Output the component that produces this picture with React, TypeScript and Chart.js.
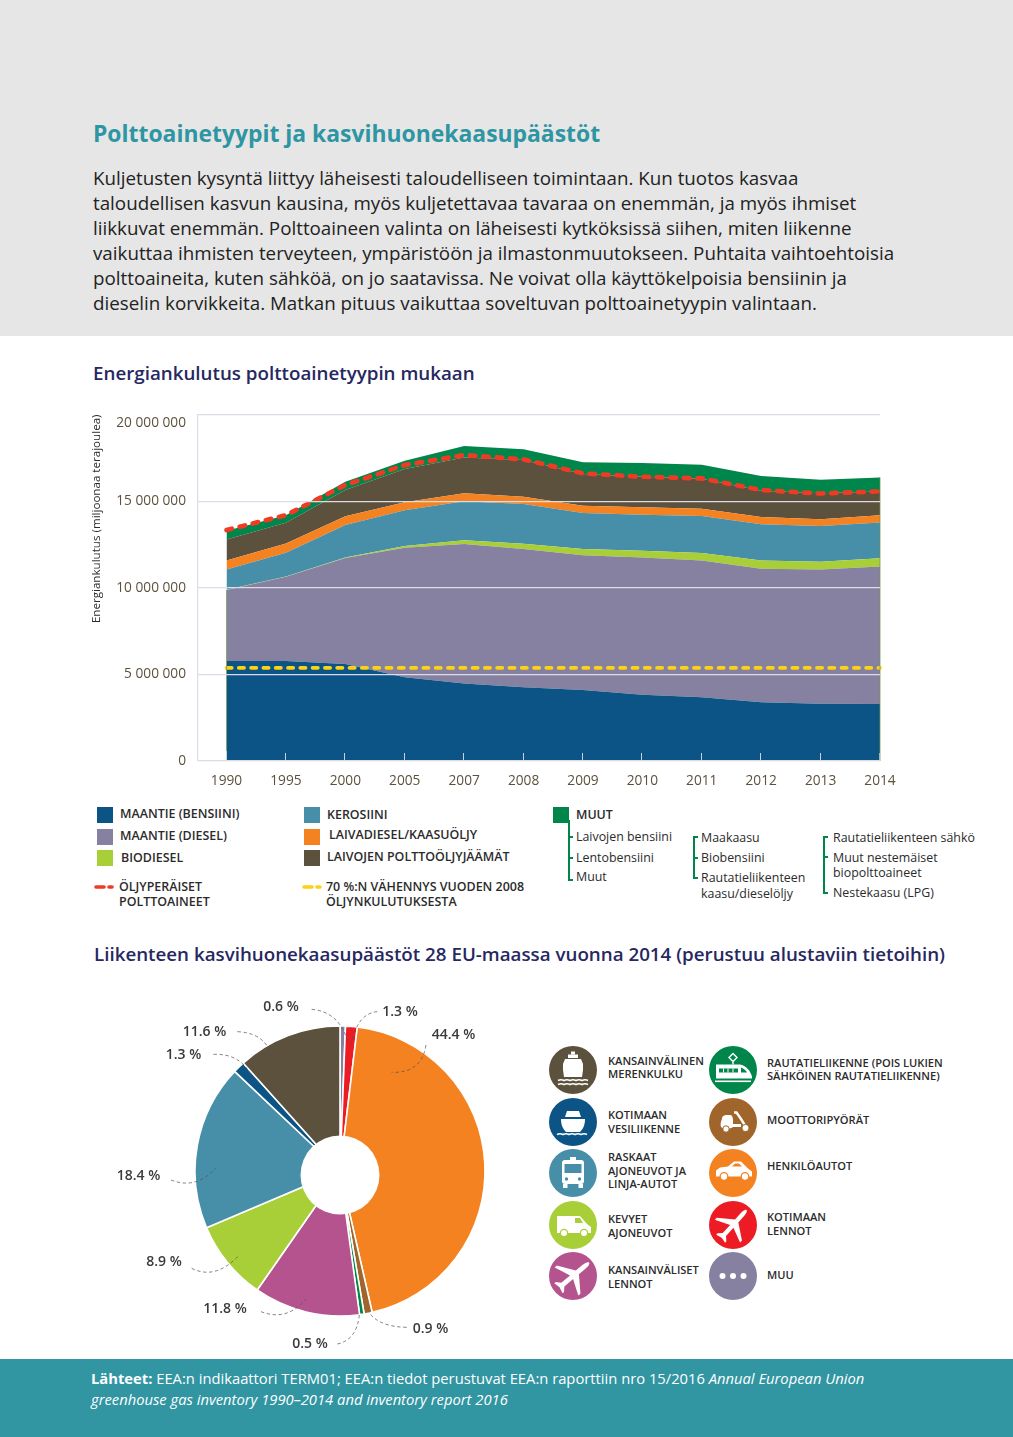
import React, { useEffect, useRef } from "react";
import { Chart, registerables } from "chart.js";
Chart.register(...registerables);

// ---------- data ----------
const years = ["1990","1995","2000","2005","2007","2008","2009","2010","2011","2012","2013","2014"];
const roadPetrol = [5770000,5770000,5600000,4830000,4480000,4250000,4100000,3830000,3680000,3390000,3310000,3290000];
const roadDiesel = [4100000,4860000,6110000,7480000,8040000,7980000,7770000,7920000,7900000,7710000,7750000,7940000];
const biodiesel = [10000,20000,40000,100000,220000,310000,360000,380000,420000,480000,440000,470000];
const kerosene = [1180000,1370000,1870000,2070000,2260000,2290000,2080000,2080000,2140000,2080000,2060000,2070000];
const marineDiesel = [520000,540000,500000,450000,450000,420000,420000,430000,420000,420000,400000,420000];
const residualFuel = [1210000,1190000,1520000,1920000,2070000,2120000,1830000,1770000,1730000,1520000,1490000,1370000];
const others = [500000,440000,480000,480000,660000,620000,690000,790000,810000,850000,780000,810000];
const oilFuels = [13330000,14190000,15930000,17080000,17660000,17410000,16600000,16410000,16310000,15640000,15440000,15560000];
const target70 = [5380000,5380000,5380000,5380000,5380000,5380000,5380000,5380000,5380000,5380000,5380000,5380000];
const yTicks = [0,5000000,10000000,15000000,20000000];

const pieLabels = ["Muu","Kotimaan lennot","Henkilöautot","Moottoripyörät","Rautatieliikenne","Kansainväliset lennot","Kevyet ajoneuvot","Raskaat ajoneuvot ja linja-autot","Kotimaan vesiliikenne","Kansainvälinen merenkulku"];
const pieValues = [0.6,1.3,44.4,0.9,0.5,11.8,8.9,18.4,1.3,11.6];
const pieColors = ["#8781a1","#ed1c24","#f58220","#a0652b","#00854a","#b5538f","#a9cf38","#478fa8","#0d5486","#5c513c"];

const bodyLines = [
  "Kuljetusten kysyntä liittyy läheisesti taloudelliseen toimintaan. Kun tuotos kasvaa",
  "taloudellisen kasvun kausina, myös kuljetettavaa tavaraa on enemmän, ja myös ihmiset",
  "liikkuvat enemmän. Polttoaineen valinta on läheisesti kytköksissä siihen, miten liikenne",
  "vaikuttaa ihmisten terveyteen, ympäristöön ja ilmastonmuutokseen. Puhtaita vaihtoehtoisia",
  "polttoaineita, kuten sähköä, on jo saatavissa. Ne voivat olla käyttökelpoisia bensiinin ja",
  "dieselin korvikkeita. Matkan pituus vaikuttaa soveltuvan polttoainetyypin valintaan.",
];

const FONT = "'Open Sans', sans-serif";
const C = { petrol:"#0d5486", diesel:"#8781a1", bio:"#a9cf38", kero:"#478fa8", marine:"#f58220", resid:"#5c513c", other:"#00854a", red:"#ef3b24", yellow:"#fcd116" };

// ---------- helpers ----------
function T({ x, y, s, w = 400, c = "#2b2b2b", children, center, it }: any) {
  return (
    <div style={{ position:"absolute", left:x, top:y, transform: center ? "translate(-50%,-50%)" : "translateY(-50%)", fontFamily:FONT, fontSize:s, fontWeight:w, color:c, whiteSpace:"nowrap", lineHeight:1, fontStyle: it ? "italic" : "normal" }}>
      {children}
    </div>
  );
}
function Sq({ x, y, c }: any) {
  return <div style={{ position:"absolute", left:x, top:y, width:16, height:16, background:c }} />;
}
function Box({ x, y, w, h, c }: any) {
  return <div style={{ position:"absolute", left:x, top:y, width:w, height:h, background:c }} />;
}
function Bracket({ x, y1, y2, mids, c = "#00854a" }: any) {
  return (
    <>
      <Box x={x} y={y1} w={2} h={y2 - y1} c={c} />
      {mids.map((m: number) => <Box key={m} x={x} y={m - 1} w={5} h={2} c={c} />)}
    </>
  );
}
function DashKey({ x, y, c }: any) {
  return (
    <svg style={{ position:"absolute", left:x, top:y - 3 }} width={20} height={6}>
      <line x1={2} y1={3} x2={10} y2={3} stroke={c} strokeWidth={3.6} strokeLinecap="round" />
      <line x1={15} y1={3} x2={18} y2={3} stroke={c} strokeWidth={3.6} strokeLinecap="round" />
    </svg>
  );
}

const PLANE = "M24 2C25.6 2 26.6 5 26.6 9V18L44 30V33L26.6 26V38L31 42V44L24 42.5L17 44V42L21.4 38V26L4 33V30L21.4 18V9C21.4 5 22.4 2 24 2Z";
function Icon({ x, y, c, children }: any) {
  return (
    <svg style={{ position:"absolute", left:x - 24, top:y - 24 }} width={48} height={48} viewBox="0 0 48 48">
      <circle cx={24} cy={24} r={24} fill={c} />
      {children}
    </svg>
  );
}
const Waves = ({ y, x1 = 9, n = 5 }: any) => {
  let d = `M${x1} ${y}`;
  for (let i = 0; i < n; i++) d += " q3 -1.6 6 0";
  return <path d={d} stroke="#fff" strokeWidth={1.6} fill="none" />;
};

// ---------- charts ----------
const leaderPaths = [
  "M635 58Q715 65 742 150", "M832 65Q770 70 752 170", "M978 165Q965 250 875 247",
  "M412 125Q510 130 517 220", "M340 193Q430 190 458 270", "M213 570Q290 600 348 533",
  "M275 835Q345 870 413 800", "M483 965Q560 995 617 928", "M712 1062Q770 1050 778 975",
  "M920 1012Q835 1010 805 965",
];

export default function App() {
  const areaRef = useRef<HTMLCanvasElement>(null);
  const pieRef = useRef<HTMLCanvasElement>(null);

  useEffect(() => {
    const pts = (a: number[]) => a.map((v, i) => ({ x: i, y: v }));
    const area = (label: string, data: number[], color: string, fill: any) => ({
      label, data: pts(data), backgroundColor: color, borderColor: color, borderWidth: 0, pointRadius: 0, tension: 0, fill,
    });
    const edgePlugin = {
      id: "edges",
      afterDatasetsDraw(chart: any) {
        const { ctx, scales } = chart;
        const x = scales.x, y = scales.y;
        ctx.save();
        ctx.strokeStyle = "rgba(222,222,235,0.9)";
        ctx.lineWidth = 1;
        years.forEach((_, i) => {
          if (i === 0) return;
          const px = Math.round(x.getPixelForValue(i)) - 0.5;
          ctx.beginPath(); ctx.moveTo(px, y.bottom - 8); ctx.lineTo(px, y.bottom); ctx.stroke();
        });
        ctx.strokeStyle = "rgba(110,150,70,0.75)";
        [0, years.length - 1].forEach((i) => {
          const px = x.getPixelForValue(i);
          const top = y.getPixelForValue(i === 0 ? roadPetrol[0] + roadDiesel[0] : 16370000);
          ctx.beginPath(); ctx.moveTo(px, top); ctx.lineTo(px, y.bottom - (i === 0 ? 10 : 0)); ctx.stroke();
        });
        ctx.restore();
      },
    };
    const a = new Chart(areaRef.current!, {
      type: "line",
      plugins: [edgePlugin],
      data: {
        datasets: [
          area("Maantie (bensiini)", roadPetrol, C.petrol, "origin"),
          area("Maantie (diesel)", roadDiesel, C.diesel, "-1"),
          area("Biodiesel", biodiesel, C.bio, "-1"),
          area("Kerosiini", kerosene, C.kero, "-1"),
          area("Laivadiesel/kaasuöljy", marineDiesel, C.marine, "-1"),
          area("Laivojen polttoöljyjäämät", residualFuel, C.resid, "-1"),
          area("Muut", others, C.other, "-1"),
          { label:"Öljyperäiset polttoaineet", data: pts(oilFuels), stack:"oil", borderColor:C.red, backgroundColor:C.red, borderWidth:4.7, borderDash:[5.5,8], borderCapStyle:"round", pointRadius:0, tension:0, fill:false, order:-1, clip:false },
          { label:"70 %:n vähennys", data: pts(target70), stack:"target", borderColor:C.yellow, backgroundColor:C.yellow, borderWidth:3.8, borderDash:[5.2,7.1], borderCapStyle:"round", pointRadius:0, tension:0, fill:false, order:-1, clip:false },
        ] as any,
      },
      options: {
        responsive: false, animation: false,
        layout: { padding: { left: 90, right: 133, top: 34.5, bottom: 0 } },
        plugins: { legend: { display: false }, tooltip: { enabled: false } },
        scales: {
          x: {
            type: "linear", min: -0.48, max: 11,
            afterBuildTicks: (s: any) => { s.ticks = years.map((_, i) => ({ value: i })); },
            afterFit: (s: any) => { s.height = 39; },
            grid: { display: false },
            border: { display: false },
            ticks: { callback: (v: any) => years[v] ?? "", autoSkip: false, maxRotation: 0, minRotation: 0, padding: 4, color: "#5c513c", font: { family: FONT, size: 13.7 } },
          },
          y: {
            stacked: true, min: 0, max: 20000000,
            afterBuildTicks: (s: any) => { s.ticks = yTicks.map((value) => ({ value })); },
            afterFit: (s: any) => { s.width = 108; },
            grid: { color: "#dcdbe8", lineWidth: 1.2, z: 1, drawTicks: false },
            border: { display: true, color: "#dcdbe8", width: 1.2, z: 1 },
            title: { display: true, text: "Energiankulutus (miljoonaa terajoulea)", align: "end", color: "#2b2b2b", padding: { top: 0, bottom: 0 }, font: { family: FONT, size: 11.6 } },
            ticks: {
              padding: 12, color: "#5c513c", font: { family: FONT, size: 13.7 },
              callback: (v: any) => {
                const s = String(v).replace(/\B(?=(\d{3})+(?!\d))/g, " ");
                return v === 20000000 ? ["", s] : s;
              },
            },
          },
        },
      } as any,
    });

    const holePlugin = {
      id: "hole",
      afterDatasetsDraw(chart: any) {
        const arc = chart.getDatasetMeta(0).data[0];
        const { ctx } = chart;
        ctx.save();
        ctx.fillStyle = "#fff";
        ctx.beginPath(); ctx.arc(arc.x, arc.y + 4, 39.5, 0, Math.PI * 2); ctx.fill();
        ctx.restore();
      },
    };
    const p = new Chart(pieRef.current!, {
      type: "doughnut",
      plugins: [holePlugin],
      data: { labels: pieLabels, datasets: [{ data: pieValues, backgroundColor: pieColors, borderColor: "#fff", borderWidth: 1.6, borderAlign: "center" } as any] },
      options: {
        responsive: false, animation: false, radius: 145, cutout: 30,
        layout: { padding: 0 },
        plugins: { legend: { display: false }, tooltip: { enabled: false } },
      } as any,
    });
    return () => { a.destroy(); p.destroy(); };
  }, []);

  const navy = "#26285f";
  const dk = "#2b2b2b";
  const L = 12.45, S = 12.4;
  return (
    <div style={{ position:"absolute", left:0, top:0, width:1013, height:1437, background:"#fff", overflow:"hidden" }}>
      <Box x={0} y={0} w={1013} h={336} c="#e6e6e6" />
      <T x={93} y={134} s={22.9} w={700} c="#2e95a3">Polttoainetyypit ja kasvihuonekaasupäästöt</T>
      {bodyLines.map((l, i) => <T key={i} x={93} y={178 + i * 25} s={18.77} c="#222">{l}</T>)}

      <T x={93} y={373} s={18.76} w={600} c={navy}>Energiankulutus polttoainetyypin mukaan</T>
      <canvas ref={areaRef} width={1013} height={420} style={{ position:"absolute", left:0, top:380, display:"block" }} />

      <Sq x={97} y={807} c={C.petrol} /><T x={120} y={814} s={L} w={600}>MAANTIE (BENSIINI)</T>
      <Sq x={97} y={828.5} c={C.diesel} /><T x={120} y={835.5} s={L} w={600}>MAANTIE (DIESEL)</T>
      <Sq x={97} y={850} c={C.bio} /><T x={121} y={857.5} s={L} w={600}>BIODIESEL</T>
      <Sq x={304} y={807} c={C.kero} /><T x={327} y={815} s={L} w={600}>KEROSIINI</T>
      <Sq x={304} y={828.5} c={C.marine} /><T x={329} y={835} s={L} w={600}>LAIVADIESEL/KAASUÖLJY</T>
      <Sq x={304} y={850} c={C.resid} /><T x={327} y={857} s={L} w={600}>LAIVOJEN POLTTOÖLJYJÄÄMÄT</T>
      <DashKey x={94} y={886.5} c={C.red} />
      <T x={119} y={886.5} s={L} w={600}>ÖLJYPERÄISET</T><T x={119} y={901.5} s={L} w={600}>POLTTOAINEET</T>
      <DashKey x={302} y={886.5} c={C.yellow} />
      <T x={326} y={886.5} s={L} w={600}>70 %:N VÄHENNYS VUODEN 2008</T><T x={326} y={901.5} s={L} w={600}>ÖLJYNKULUTUKSESTA</T>

      <Sq x={553} y={807} c={C.other} />
      <Bracket x={568} y1={820} y2={880.5} mids={[837, 857.5, 879.7]} />
      <T x={576} y={815} s={12.4} w={600}>MUUT</T>
      <T x={576} y={837} s={S}>Laivojen bensiini</T>
      <T x={576} y={857.5} s={S}>Lentobensiini</T>
      <T x={576} y={876.5} s={S}>Muut</T>
      <Bracket x={692.5} y1={836} y2={879} mids={[836.8, 857.5, 878.2]} />
      <T x={701} y={837.7} s={S}>Maakaasu</T>
      <T x={701} y={858} s={S}>Biobensiini</T>
      <T x={701} y={878} s={S}>Rautatieliikenteen</T>
      <T x={701} y={893.5} s={S}>kaasu/dieselöljy</T>
      <Bracket x={822.5} y1={836} y2={894} mids={[836.8, 857, 893.2]} />
      <T x={833} y={838} s={S}>Rautatieliikenteen sähkö</T>
      <T x={833} y={857.5} s={S}>Muut nestemäiset</T>
      <T x={833} y={872.5} s={S}>biopolttoaineet</T>
      <T x={833} y={893} s={S}>Nestekaasu (LPG)</T>

      <T x={94} y={954} s={18.76} w={600} c={navy}>Liikenteen kasvihuonekaasupäästöt 28 EU-maassa vuonna 2014 (perustuu alustaviin tietoihin)</T>

      <canvas ref={pieRef} width={300} height={300} style={{ position:"absolute", left:190, top:1021, display:"block" }} />
      <svg style={{ position:"absolute", left:100, top:990, pointerEvents:"none" }} width={400} height={365} viewBox="0 0 1200 1095">
        {leaderPaths.map((d, i) => <path key={i} d={d} fill="none" stroke="#555" strokeWidth={2.2} strokeDasharray="10 8" />)}
      </svg>
      <T center x={281} y={1006} s={14} w={600} c="#3a3a3a">0.6 %</T>
      <T center x={400} y={1011} s={14} w={600} c="#3a3a3a">1.3 %</T>
      <T center x={453.5} y={1034} s={14} w={600} c="#3a3a3a">44.4 %</T>
      <T center x={204.5} y={1031} s={14} w={600} c="#3a3a3a">11.6 %</T>
      <T center x={183.5} y={1054} s={14} w={600} c="#3a3a3a">1.3 %</T>
      <T center x={138.5} y={1175} s={14} w={600} c="#3a3a3a">18.4 %</T>
      <T center x={164} y={1261} s={14} w={600} c="#3a3a3a">8.9 %</T>
      <T center x={225} y={1308} s={14} w={600} c="#3a3a3a">11.8 %</T>
      <T center x={310} y={1343} s={14} w={600} c="#3a3a3a">0.5 %</T>
      <T center x={430.5} y={1328} s={14} w={600} c="#3a3a3a">0.9 %</T>

      {/* ship */}
      <Icon x={573.3} y={1070} c="#5c513c">
        <rect x={22} y={5.5} width={4} height={3} fill="#fff" />
        <rect x={19} y={8.5} width={10} height={3.5} fill="#fff" />
        <path d="M16 13H32L34 18V24L33 31H15L14 24V18Z" fill="#fff" />
        <Waves y={34.5} /><Waves y={38.5} />
      </Icon>
      {/* boat */}
      <Icon x={573.3} y={1121.7} c="#0d5486">
        <path d="M18 13H30L32 19H16Z" fill="#fff" />
        <path d="M12 21H36C36 27 34 31 31 34H17C14 31 12 27 12 21Z" fill="#fff" />
        <Waves y={36.5} x1={8} n={5} />
      </Icon>
      {/* bus */}
      <Icon x={573.3} y={1173.3} c="#478fa8">
        <rect x={21} y={8} width={6} height={3} fill="#fff" />
        <rect x={13} y={11} width={22} height={24} rx={3} fill="#fff" />
        <rect x={15.5} y={15} width={17} height={9} fill="#478fa8" />
        <circle cx={17.5} cy={30} r={1.7} fill="#478fa8" /><circle cx={30.5} cy={30} r={1.7} fill="#478fa8" />
        <rect x={14} y={35} width={4.5} height={4} fill="#fff" /><rect x={29.5} y={35} width={4.5} height={4} fill="#fff" />
      </Icon>
      {/* van */}
      <Icon x={573.3} y={1224.7} c="#a9cf38">
        <path d="M8 15H31L38 23L42 26V32H8Z" fill="#fff" />
        <path d="M26 17H31L34 22H26Z" fill="#a9cf38" />
        <circle cx={15} cy={32} r={3.6} fill="#fff" stroke="#a9cf38" strokeWidth={1.2} />
        <circle cx={35} cy={32} r={3.6} fill="#fff" stroke="#a9cf38" strokeWidth={1.2} />
      </Icon>
      {/* international flights */}
      <Icon x={573.3} y={1276.3} c="#b5538f">
        <path d={PLANE} fill="#fff" transform="rotate(50 24 24) translate(24 24) scale(0.92 0.95) translate(-24 -24)" />
      </Icon>
      {/* train */}
      <Icon x={732.7} y={1070} c="#00854a">
        <g transform="translate(0 1.5)">
          <path d="M24 6L28 10L24 14L20 10Z M24 14V17" stroke="#fff" strokeWidth={1.4} fill="none" />
          <path d="M7 17H31C37 18 41 23 43 29V31H7Z" fill="#fff" />
          <path d="M10 21H29V25H10Z" fill="#00854a" />
          <path d="M14.5 21V25M19 21V25M24 21V25" stroke="#fff" strokeWidth={1} />
          <path d="M32 20C35 21 37 23 38 25H32Z" fill="#00854a" />
          <rect x={6} y={33} width={36} height={1.6} fill="#fff" />
        </g>
      </Icon>
      {/* scooter */}
      <Icon x={732.7} y={1121.7} c="#a0652b">
        <path d="M13 21C13 18 15 17 18 17H21C23 17 24 19 24 22V26H32V29H24C22 31 14 31 12 29C11 26 12 23 13 21Z" fill="#fff" />
        <path d="M25 14.5H27.5L32 21L37 29" stroke="#fff" strokeWidth={2.4} fill="none" />
        <circle cx={17} cy={31} r={3.2} fill="#fff" stroke="#a0652b" strokeWidth={1} />
        <circle cx={36.5} cy={30} r={3.6} fill="#fff" stroke="#a0652b" strokeWidth={1} />
      </Icon>
      {/* car */}
      <Icon x={732.7} y={1173.3} c="#f58220">
        <g transform="translate(0 -3.5)">
          <path d="M7 31V25L11 22L19 21L25 16H32L39 23L43 26V31Z" fill="#fff" />
          <path d="M23 21L26 18H30L33 21Z" fill="#f58220" />
          <circle cx={15} cy={31} r={3.8} fill="#fff" stroke="#f58220" strokeWidth={1.3} />
          <circle cx={36} cy={31} r={3.8} fill="#fff" stroke="#f58220" strokeWidth={1.3} />
        </g>
      </Icon>
      {/* domestic flights */}
      <Icon x={732.7} y={1224.7} c="#ed1c24">
        <path d={PLANE} fill="#fff" transform="rotate(42 24 24) translate(24 24) scale(0.85 0.92) translate(-24 -24)" />
      </Icon>
      {/* other */}
      <Icon x={732.7} y={1276.3} c="#8781a1">
        <circle cx={13.5} cy={24} r={3} fill="#fff" /><circle cx={24} cy={24} r={3} fill="#fff" /><circle cx={34.5} cy={24} r={3} fill="#fff" />
      </Icon>

      {[["KANSAINVÄLINEN",1061],["MERENKULKU",1074],["KOTIMAAN",1115],["VESILIIKENNE",1129],["RASKAAT",1157],["AJONEUVOT JA",1170.5],["LINJA-AUTOT",1184],["KEVYET",1219],["AJONEUVOT",1232.5],["KANSAINVÄLISET",1270],["LENNOT",1284]].map(([t, y]: any) => (
        <T key={t + y} x={608} y={y} s={11.1} w={600} c={dk}>{t}</T>
      ))}
      {[["RAUTATIELIIKENNE (POIS LUKIEN",1063],["SÄHKÖINEN RAUTATIELIIKENNE)",1076],["MOOTTORIPYÖRÄT",1120],["HENKILÖAUTOT",1166],["KOTIMAAN",1217],["LENNOT",1231],["MUU",1275]].map(([t, y]: any) => (
        <T key={t + y} x={767} y={y} s={11.1} w={600} c={dk}>{t}</T>
      ))}

      <Box x={0} y={1358.5} w={1013} h={78} c="#3195a2" />
      <T x={91} y={1378} s={14.75} c="#fff"><b>Lähteet:</b> EEA:n indikaattori TERM01; EEA:n tiedot perustuvat EEA:n raporttiin nro 15/2016 <i>Annual European Union</i></T>
      <T x={91} y={1399} s={14.75} c="#fff" it>greenhouse gas inventory 1990–2014 and inventory report 2016</T>
    </div>
  );
}
